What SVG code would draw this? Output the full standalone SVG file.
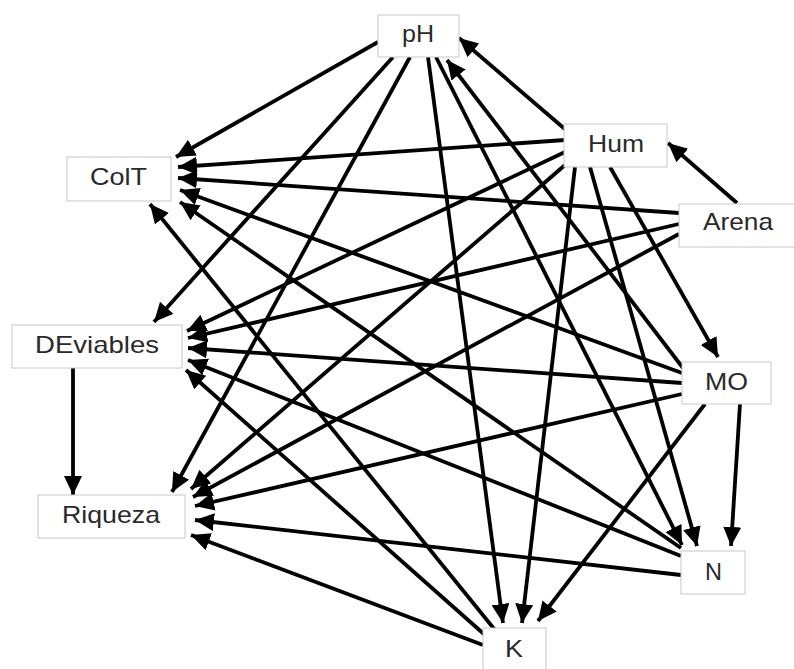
<svg xmlns="http://www.w3.org/2000/svg" width="794" height="669" viewBox="0 0 794 669">
<defs>
<marker id="ah" markerUnits="userSpaceOnUse" markerWidth="20" markerHeight="20" refX="19" refY="9" orient="auto">
<path d="M0,0 L19,9 L0,18 z" fill="#000"/>
</marker>
<style>
.e{stroke:#000;stroke-width:3.8;fill:none;marker-end:url(#ah)}
.b{fill:#fff;stroke:#c8c8c8;stroke-width:1}
.t{font-family:"Liberation Sans",Arial,sans-serif;font-size:24px;fill:#2a2a2a;text-anchor:middle}
</style>
</defs>
<rect width="794" height="669" fill="#fff"/>
<g id="connectors">
<line class="e" x1="737" y1="203" x2="668" y2="143"/>
<line class="e" x1="566" y1="130" x2="459" y2="38"/>
<line class="e" x1="683" y1="368" x2="447" y2="60"/>
<line class="e" x1="378" y1="42" x2="176" y2="157"/>
<line class="e" x1="393" y1="57" x2="154" y2="322"/>
<line class="e" x1="410" y1="57" x2="172" y2="492"/>
<line class="e" x1="428" y1="57" x2="503" y2="623"/>
<line class="e" x1="436" y1="57" x2="682" y2="545"/>
<line class="e" x1="565" y1="140" x2="178" y2="167"/>
<line class="e" x1="679" y1="213" x2="178" y2="178"/>
<line class="e" x1="682" y1="373" x2="180" y2="190"/>
<line class="e" x1="681" y1="548" x2="180" y2="202"/>
<line class="e" x1="495" y1="630" x2="150" y2="204"/>
<line class="e" x1="565" y1="152" x2="187" y2="331"/>
<line class="e" x1="679" y1="224" x2="188" y2="338"/>
<line class="e" x1="682" y1="383" x2="188" y2="348"/>
<line class="e" x1="681" y1="556" x2="188" y2="360"/>
<line class="e" x1="485" y1="635" x2="186" y2="370"/>
<line class="e" x1="73" y1="368" x2="73" y2="495"/>
<line class="e" x1="565" y1="165" x2="191" y2="489"/>
<line class="e" x1="679" y1="234" x2="193" y2="497"/>
<line class="e" x1="682" y1="394" x2="195" y2="506"/>
<line class="e" x1="681" y1="575" x2="195" y2="520"/>
<line class="e" x1="483" y1="645" x2="191" y2="535"/>
<line class="e" x1="575" y1="167" x2="522" y2="623"/>
<line class="e" x1="590" y1="167" x2="697" y2="546"/>
<line class="e" x1="610" y1="167" x2="718" y2="357"/>
<line class="e" x1="705" y1="404" x2="538" y2="621"/>
<line class="e" x1="740" y1="404" x2="731" y2="546"/>
</g>
<g id="pH"><rect class="b" x="378" y="15" width="81" height="42"/><text class="t" x="418" y="42" textLength="32" lengthAdjust="spacingAndGlyphs">pH</text></g>
<g id="Hum"><rect class="b" x="564" y="124" width="103" height="43"/><text class="t" x="616" y="152" textLength="56" lengthAdjust="spacingAndGlyphs">Hum</text></g>
<g id="Arena"><rect class="b" x="679" y="204" width="120" height="43"/><text class="t" x="738" y="230" textLength="70" lengthAdjust="spacingAndGlyphs">Arena</text></g>
<g id="ColT"><rect class="b" x="67" y="157" width="104" height="44"/><text class="t" x="118.5" y="185" textLength="57" lengthAdjust="spacingAndGlyphs">ColT</text></g>
<g id="DEviables"><rect class="b" x="12" y="325" width="170" height="43"/><text class="t" x="97" y="353" textLength="124" lengthAdjust="spacingAndGlyphs">DEviables</text></g>
<g id="Riqueza"><rect class="b" x="38" y="495" width="147" height="43"/><text class="t" x="111" y="523" textLength="98" lengthAdjust="spacingAndGlyphs">Riqueza</text></g>
<g id="MO"><rect class="b" x="682" y="362" width="89" height="42"/><text class="t" x="726.5" y="390" textLength="43" lengthAdjust="spacingAndGlyphs">MO</text></g>
<g id="N"><rect class="b" x="681" y="551" width="64" height="43"/><text class="t" x="713.5" y="580" textLength="17" lengthAdjust="spacingAndGlyphs">N</text></g>
<g id="K"><rect class="b" x="483" y="628" width="63" height="44"/><text class="t" x="514" y="657" textLength="18" lengthAdjust="spacingAndGlyphs">K</text></g>
</svg>
